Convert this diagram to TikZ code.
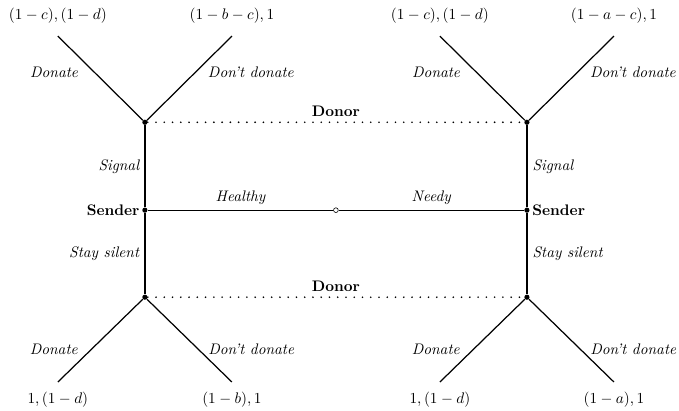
\documentclass[tikz,border=0pt]{standalone}
\begin{document}
\begin{tikzpicture}[
  nd/.style={circle, fill=black, inner sep=1.2pt},
  nat/.style={circle, draw=black, fill=white, inner sep=1.1pt, thin},
  br/.style={thick},
  info/.style={line width=1.2pt, dash pattern=on 0pt off 5.4pt, line cap=round}]

\useasboundingbox (-7.72, -4.60) rectangle (7.885, 4.83);

% --- Decision nodes ---
\node[nat] (n) at (0, 0) {};
\node[nd] (s1) at (-4.39, 0) {};
\node[nd] (s2) at (4.39, 0) {};
\node[nd] (d1) at (-4.39, 2.02) {};
\node[nd] (d2) at (4.39, 2.02) {};
\node[nd] (d3) at (-4.39, -2.0) {};
\node[nd] (d4) at (4.39, -2.0) {};

% --- Terminal points ---
\coordinate (t1) at (-6.39, 4.0);
\coordinate (t2) at (-2.39, 4.0);
\coordinate (t3) at (2.39, 4.0);
\coordinate (t4) at (6.39, 4.0);
\coordinate (t5) at (-6.39, -3.95);
\coordinate (t6) at (-2.39, -3.95);
\coordinate (t7) at (2.39, -3.95);
\coordinate (t8) at (6.39, -3.95);

% --- Nature: type of sender ---
\draw[br] (n) -- node[above, font=\itshape] (hl) {Healthy} (s1);
\draw[br] (n) -- node[above, font=\itshape] (nl) {Needy} (s2);
\node[left, font=\bfseries] (sl1) at (s1) {Sender};
\node[right, font=\bfseries] (sl2) at (s2) {Sender};

% --- Sender moves ---
\draw[br] (s1) -- node[left, font=\itshape] (g1) {Signal} (d1);
\draw[br] (s1) -- node[left, font=\itshape] (q1) {Stay silent} (d3);
\draw[br] (s2) -- node[right, font=\itshape] (g2) {Signal} (d2);
\draw[br] (s2) -- node[right, font=\itshape] (q2) {Stay silent} (d4);

% --- Information sets ---
\draw[info] (d1) -- node[above, font=\bfseries] (i1) {Donor} (d2);
\draw[info] (d3) -- node[above, font=\bfseries] (i2) {Donor} (d4);

% --- Donor moves, top ---
\draw[br] (d1) -- node[left=7pt, pos=0.57, font=\itshape] (a1) {Donate} (t1);
\draw[br] (d1) -- node[right=4.5pt, pos=0.57, font=\itshape] (b1) {Don't donate} (t2);
\draw[br] (d2) -- node[left=7pt, pos=0.57, font=\itshape] (a2) {Donate} (t3);
\draw[br] (d2) -- node[right=4.5pt, pos=0.57, font=\itshape] (b2) {Don't donate} (t4);

% --- Donor moves, bottom ---
\draw[br] (d3) -- node[left=5pt, pos=0.61, font=\itshape] (a3) {Donate} (t5);
\draw[br] (d3) -- node[right=2.5pt, pos=0.61, font=\itshape] (b3) {Don't donate} (t6);
\draw[br] (d4) -- node[left=5pt, pos=0.61, font=\itshape] (a4) {Donate} (t7);
\draw[br] (d4) -- node[right=2.5pt, pos=0.61, font=\itshape] (b4) {Don't donate} (t8);

% --- Payoffs ---
\node[above=5pt] (p1) at (t1) {$(1-c),(1-d)$};
\node[above=5pt] (p2) at (t2) {$(1-b-c),1$};
\node[above=5pt] (p3) at (t3) {$(1-c),(1-d)$};
\node[above=5pt] (p4) at (t4) {$(1-a-c),1$};
\node[below=3pt] (p5) at (t5) {$1,(1-d)$};
\node[below=3pt] (p6) at (t6) {$(1-b),1$};
\node[below=3pt] (p7) at (t7) {$1,(1-d)$};
\node[below=3pt] (p8) at (t8) {$(1-a),1$};

\end{tikzpicture}
\end{document}
